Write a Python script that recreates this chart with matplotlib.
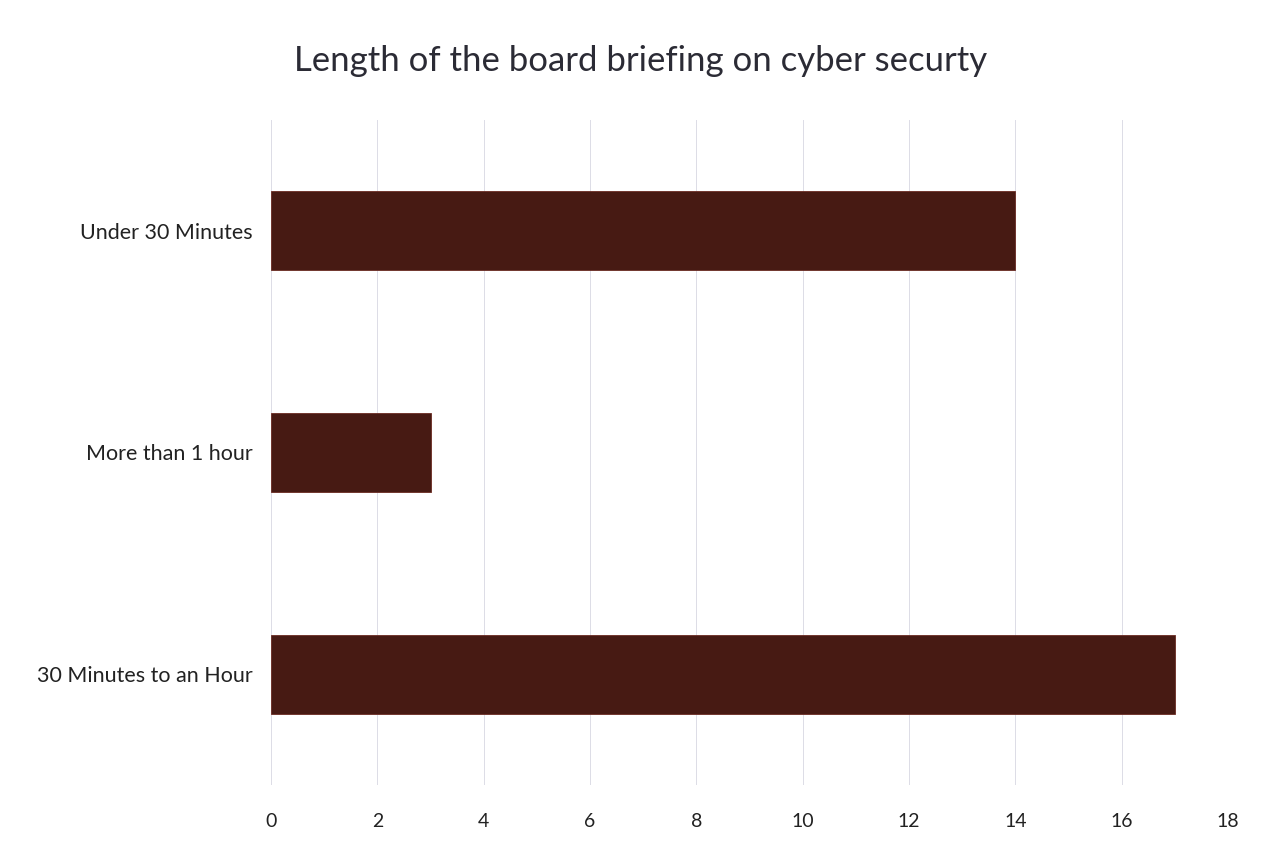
import matplotlib
matplotlib.use("Agg")
import matplotlib.pyplot as plt

# Survey responses: how long the board briefing on cyber security lasts
categories = ["30 Minutes to an Hour", "More than 1 hour", "Under 30 Minutes"]
counts = [17, 3, 14]
x_ticks = [0, 2, 4, 6, 8, 10, 12, 14, 16, 18]

plt.rcParams["font.family"] = ["Lato", "DejaVu Sans"]

fig = plt.figure(figsize=(12.69, 8.42), dpi=100)
ax = fig.add_axes([0.2136, 0.0677, 0.7541, 0.7898])

ax.barh(range(len(categories)), counts, height=0.355, color="#471a13",
        edgecolor="#6a2a22", linewidth=0.6, zorder=3)

ax.set_xlim(0, 18)
ax.set_ylim(-0.5, len(categories) - 0.5)
ax.set_xticks(x_ticks)
ax.set_xticklabels([str(t) for t in x_ticks])
ax.set_yticks(range(len(categories)))
ax.set_yticklabels(categories)

ax.grid(axis="x", color="#dcdce6", linewidth=0.7, zorder=0)
ax.grid(axis="y", visible=False)
for s in ax.spines.values():
    s.set_visible(False)
ax.tick_params(axis="x", length=0, pad=20, labelsize=14, labelcolor="#222222")
ax.tick_params(axis="y", length=0, pad=13, labelsize=15.5, labelcolor="#222222")

fig.text(0.505, 0.927, "Length of the board briefing on cyber securty",
         ha="center", va="center", fontsize=25, color="#2b2b35")

fig.savefig("out.png", dpi=100)
